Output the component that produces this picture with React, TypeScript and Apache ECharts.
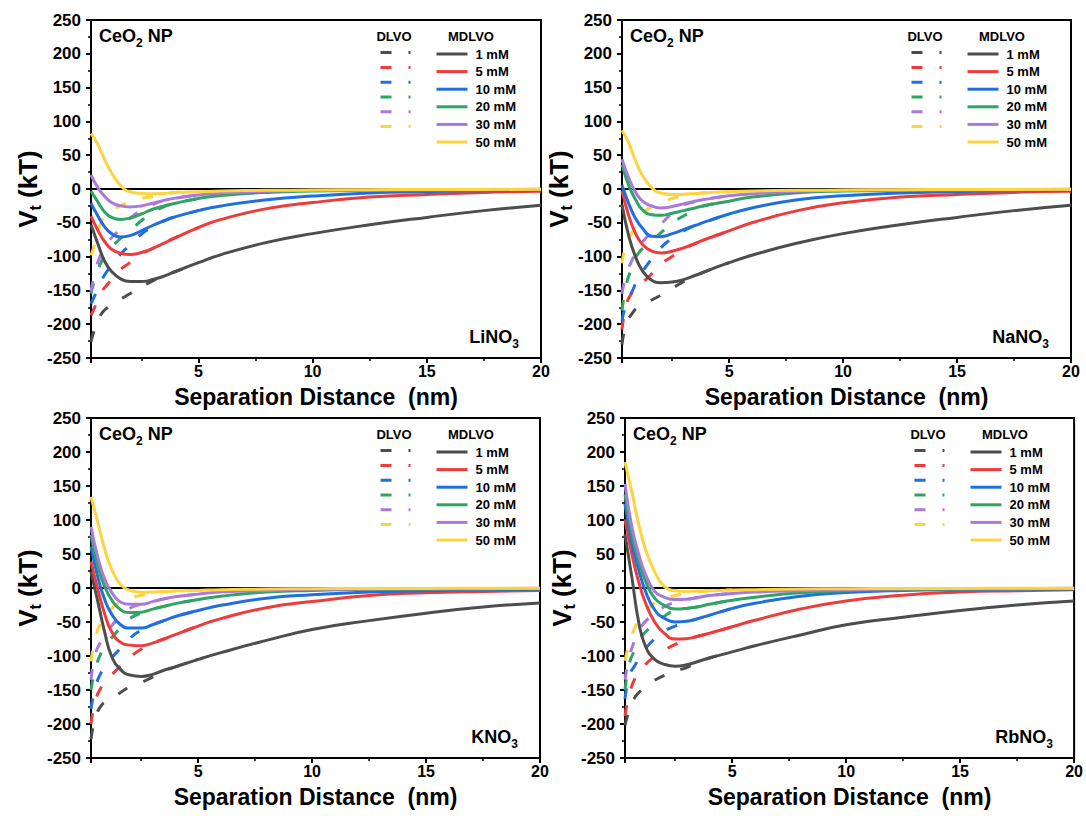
import React, { useEffect, useRef } from 'react';
import * as echarts from 'echarts';

// ---------- data ----------
const xMDLVO = [0.3, 0.6, 0.9, 1.2, 1.6, 2.0, 2.5, 3.0, 3.5, 4.0, 5, 6, 8, 10, 12.5, 15, 17.5, 20];
const xDLVO = [0.3, 0.5, 0.75, 1.0, 1.5, 2.0, 2.5, 3.0, 3.5, 4.0, 5.0];
const concentrations = ['1 mM', '5 mM', '10 mM', '20 mM', '30 mM', '50 mM'];
const xRange = [0.3, 20];
const yRange = [-250, 250];
const yStep = 50;
const zeroLine = [[0.3, 0], [20, 0]];

// LiNO3
const liMDLVO = [
  [-53, -81, -107, -122, -133, -137, -137, -134, -129, -122, -109, -97, -79, -66, -53, -42, -32, -24],
  [-40, -61, -78, -89, -95, -97, -94, -88, -80, -72, -57, -45, -29, -20, -12, -8, -5, -3.5],
  [-21, -40, -56, -66, -71, -69, -62, -54, -47, -41, -32, -25, -16, -10.5, -6, -4, -2.5, -2],
  [-3, -19, -34, -42, -45, -43, -37, -30, -25, -21, -14, -9.5, -5, -3, -2, -1.5, -1, -1],
  [21, 2, -11, -20, -25, -26.5, -25, -21, -16.8, -13.5, -9, -6, -3.2, -2, -1.5, -1, -1, -0.5],
  [82, 66, 43, 24, 5, -4, -6.5, -7.2, -6.5, -5, -4, -3, -2, -1.5, -1, -0.8, -0.6, -0.5],
];
const liDLVO = [
  [-226, -203, -185, -176, -165, -155, -145, -136, -128, -122, -109],
  [-187, -172, -153, -142, -122, -109, -96, -88, -80, -72, -57],
  [-170, -155, -136, -122, -100, -83, -67, -56, -47, -41, -32],
  [-155, -130, -108, -95, -76, -62, -47, -35, -26, -21, -14],
  [-152, -120, -95, -80, -62, -44, -31, -23, -17, -13.5, -9],
  [-98, -78, -48, -36, -26, -19, -14, -11, -8, -5, -4],
];
// NaNO3
const naMDLVO = [
  [-23, -70, -101, -121, -135, -138.5, -137.5, -134, -128, -121.5, -109, -98, -80, -66, -53, -42, -32, -24],
  [-3, -40, -66, -82, -92, -94.5, -92, -87, -80.5, -74, -62, -50, -32, -20.5, -12, -8, -5, -3.5],
  [6, -22, -44, -58, -70, -70.5, -66, -60, -54, -48, -37, -28, -16, -10, -6, -4, -2.5, -2],
  [36, 5, -16, -31, -38, -39, -36, -32, -28, -24, -18, -12, -5.5, -3, -2, -1.5, -1, -1],
  [44, 16, -5, -18, -25, -28, -26, -22, -18, -15, -10, -7, -3.5, -2, -1.5, -1, -1, -0.5],
  [87, 68, 41, 20, 2, -6, -8.3, -7.6, -6.5, -5.5, -4, -3, -2, -1.5, -1, -0.8, -0.6, -0.5],
];
const naDLVO = [
  [-230, -198, -184, -175, -166, -157, -147, -137, -129, -121.5, -109],
  [-208, -170, -153, -144, -129, -111, -100, -89, -81, -74, -62],
  [-195, -168, -151, -133, -108, -87, -73, -62, -54, -48, -37],
  [-180, -140, -115, -96, -80, -65, -50, -40, -30, -24, -18],
  [-155, -125, -105, -88, -67, -52, -36, -24, -19, -15, -10],
  [-110, -80, -64, -45, -28, -21, -14, -10, -7, -5.5, -4],
];
// KNO3
const kMDLVO = [
  [24, -20, -65, -100, -120, -128, -130, -127, -121, -116, -105, -95, -77, -61, -48, -37, -28, -22],
  [39, -2, -38, -64, -80, -84, -85, -81, -75, -68.5, -56, -45, -29, -20, -11, -7, -5, -3.5],
  [61, 16, -17, -38, -54, -59, -59, -54, -48, -42, -33, -25.5, -15, -10, -6, -4, -2.5, -2],
  [78, 32, 2, -17, -32, -36, -35.5, -31, -27, -23, -17, -12, -6, -3.5, -2, -1.5, -1, -1],
  [90, 45, 13, -6, -21, -24, -24, -20, -16, -13, -9, -6, -3.5, -2, -1.5, -1, -1, -0.5],
  [134, 96, 57, 28, 5, -3.5, -6.3, -6, -5, -4.5, -3.5, -2.5, -1.5, -1, -0.8, -0.6, -0.5, -0.5],
];
const kDLVO = [
  [-222, -190, -173, -166, -156, -145, -139, -131, -122, -116, -105],
  [-200, -165, -146, -135, -118, -102, -90, -81, -75, -68.5, -56],
  [-178, -145, -124, -111, -92, -74, -62, -54, -48, -42, -33],
  [-150, -118, -95, -82, -62, -45, -37, -31, -27, -23, -17],
  [-135, -96, -78, -64, -45, -30, -24, -20, -16, -13, -9],
  [-108, -72, -50, -38, -22, -15, -11, -8, -6, -4.5, -3.5],
];
// RbNO3
const rbMDLVO = [
  [79, 16, -50, -86, -105, -112, -115, -113, -108, -103, -94, -85, -69, -54, -43, -33, -25, -19],
  [101, 50, 9, -22, -50, -66, -75, -74.5, -71, -66.5, -57, -47.5, -31, -19, -10.5, -6, -4, -2.5],
  [124, 66, 27, -5, -32, -44, -50, -49, -45, -40, -30, -22.5, -12, -6.5, -3.5, -2.5, -2, -1.5],
  [138, 78, 40, 10, -15, -25, -31, -30, -27.5, -24, -18, -13.5, -7, -4, -2.5, -1.5, -1, -1],
  [153, 90, 50, 20, -5, -13, -17, -16.5, -14, -11, -8, -6, -4, -2.5, -1.5, -1, -1, -0.5],
  [185, 141, 94, 57, 24, 3, -4, -5, -4.5, -4, -3, -2.5, -1.5, -1, -0.8, -0.6, -0.5, -0.5],
];
const rbDLVO = [
  [-202, -178, -160, -151, -138, -129, -122, -117, -109, -103, -94],
  [-188, -155, -132, -120, -103, -92, -83, -76, -71, -66.5, -57],
  [-163, -128, -113, -98, -78, -64, -56, -50, -45, -40, -30],
  [-150, -110, -90, -73, -55, -42, -33, -30, -27.5, -24, -18],
  [-135, -100, -75, -57, -40, -28, -21, -17, -14, -11, -8],
  [-107, -80, -57, -42, -24, -16, -11, -8, -6, -4, -3],
];

// ---------- styling ----------
const colors = ['#4d4d4d', '#ee3b3b', '#1f6fe0', '#2fa463', '#a979e0', '#fdd43f'];
const FONT = 'Liberation Sans, Arial, Helvetica, sans-serif';

const panels = [
  { salt: 'LiNO', M: liMDLVO, D: liDLVO, left: 91, top: 20, width: 450, height: 338 },
  { salt: 'NaNO', M: naMDLVO, D: naDLVO, left: 622, top: 20, width: 449, height: 338 },
  { salt: 'KNO', M: kMDLVO, D: kDLVO, left: 91, top: 418, width: 449, height: 340 },
  { salt: 'RbNO', M: rbMDLVO, D: rbDLVO, left: 625, top: 418, width: 450, height: 340 },
];

function buildOption() {
  const grid: any[] = [];
  const xAxis: any[] = [];
  const yAxis: any[] = [];
  const series: any[] = [];
  const legend: any[] = [];
  const graphic: any[] = [];

  panels.forEach((p, i) => {
    grid.push({
      left: p.left, top: p.top, width: p.width, height: p.height,
      show: true, borderColor: '#000', borderWidth: 2, backgroundColor: 'transparent',
    });
    xAxis.push({
      gridIndex: i, type: 'value', min: xRange[0], max: xRange[1], splitNumber: 4,
      axisLine: { onZero: false, lineStyle: { color: '#000', width: 2 } },
      axisTick: { show: true, length: 5, lineStyle: { color: '#000', width: 2 } },
      minorTick: { show: true, splitNumber: 2, length: 3, lineStyle: { color: '#000', width: 1.5 } },
      splitLine: { show: false },
      axisLabel: { showMinLabel: false, fontSize: 16, fontWeight: 'bold', color: '#000', margin: 5, fontFamily: FONT },
      name: 'Separation Distance  (nm)', nameLocation: 'middle', nameGap: 27,
      nameTextStyle: { fontSize: 23, fontWeight: 'bold', color: '#000', fontFamily: FONT },
    });
    yAxis.push({
      gridIndex: i, type: 'value', min: yRange[0], max: yRange[1], interval: yStep,
      axisLine: { show: true, lineStyle: { color: '#000', width: 2 } },
      axisTick: { show: true, length: 5, lineStyle: { color: '#000', width: 2 } },
      minorTick: { show: true, splitNumber: 2, length: 3, lineStyle: { color: '#000', width: 1.5 } },
      splitLine: { show: false },
      axisLabel: { fontSize: 17, fontWeight: 'bold', color: '#000', margin: 10, fontFamily: FONT },
      name: '{v|V}{s|t}{v| (kT)}', nameLocation: 'middle', nameGap: 48, nameRotate: 90,
      nameTextStyle: {
        color: '#000', fontFamily: FONT,
        rich: {
          v: { fontSize: 26, fontWeight: 'bold', color: '#000', lineHeight: 30, verticalAlign: 'middle', fontFamily: FONT },
          s: { fontSize: 16, fontWeight: 'bold', color: '#000', lineHeight: 30, verticalAlign: 'bottom', fontFamily: FONT },
        },
      },
    });

    series.push({
      type: 'line', name: 'zero', xAxisIndex: i, yAxisIndex: i, data: zeroLine,
      symbol: 'none', silent: true, lineStyle: { color: '#000', width: 2 }, z: 1,
    });
    concentrations.forEach((c, k) => {
      series.push({
        type: 'line', name: 'DLVO ' + c, xAxisIndex: i, yAxisIndex: i,
        data: xDLVO.map((x, j) => [x, p.D[k][j]]),
        symbol: 'none', showSymbol: false, smooth: true, clip: true,
        itemStyle: { color: colors[k] },
        lineStyle: { color: colors[k], width: 3, type: [11, 17] }, z: 2,
      });
    });
    concentrations.forEach((c, k) => {
      series.push({
        type: 'line', name: c, xAxisIndex: i, yAxisIndex: i,
        data: xMDLVO.map((x, j) => [x, p.M[k][j]]),
        symbol: 'none', showSymbol: false, smooth: true, clip: true,
        itemStyle: { color: colors[k] },
        lineStyle: { color: colors[k], width: 3, type: 'solid' }, z: 3,
      });
    });

    const legendCommon = {
      orient: 'vertical', top: p.top + 27, itemHeight: 14, itemGap: 3.6, padding: 0,
      selectedMode: false, lineStyle: { width: 3 }, itemStyle: { opacity: 0 },
      textStyle: { fontSize: 13, fontWeight: 'bold', color: '#000', lineHeight: 14, fontFamily: FONT },
    };
    legend.push({
      ...legendCommon, left: p.left + 288, itemWidth: 30,
      data: concentrations.map((c) => 'DLVO ' + c), formatter: () => '',
    });
    legend.push({
      ...legendCommon, left: p.left + 344, itemWidth: 31,
      data: concentrations,
      textStyle: { ...legendCommon.textStyle, padding: [0, 0, 0, 3] },
    });

    graphic.push({
      type: 'text',
      style: {
        x: p.left + 303, y: p.top + 16, text: 'DLVO',
        align: 'center', verticalAlign: 'middle', textAlign: 'center', textVerticalAlign: 'middle',
        fontSize: 13, fontWeight: 'bold', fill: '#000', fontFamily: FONT,
      },
    });
    graphic.push({
      type: 'text',
      style: {
        x: p.left + 380, y: p.top + 16, text: 'MDLVO',
        align: 'center', verticalAlign: 'middle', textAlign: 'center', textVerticalAlign: 'middle',
        fontSize: 13, fontWeight: 'bold', fill: '#000', fontFamily: FONT,
      },
    });
    graphic.push({
      type: 'text',
      style: {
        x: p.left + 8, y: p.top + 16, text: '{a|CeO}{s|2}{a| NP}',
        align: 'left', verticalAlign: 'middle', textAlign: 'left', textVerticalAlign: 'middle',
        fill: '#000', fontFamily: FONT,
        rich: {
          a: { fontSize: 18, fontWeight: 'bold', fill: '#000', lineHeight: 26, verticalAlign: 'middle', fontFamily: FONT },
          s: { fontSize: 12, fontWeight: 'bold', fill: '#000', lineHeight: 26, verticalAlign: 'bottom', fontFamily: FONT },
        },
      },
    });
    graphic.push({
      type: 'text',
      style: {
        x: p.left + p.width - 22, y: p.top + p.height - 21, text: '{a|' + p.salt + '}{s|3}',
        align: 'right', verticalAlign: 'middle', textAlign: 'right', textVerticalAlign: 'middle',
        fill: '#000', fontFamily: FONT,
        rich: {
          a: { fontSize: 18, fontWeight: 'bold', fill: '#000', lineHeight: 26, verticalAlign: 'middle', fontFamily: FONT },
          s: { fontSize: 12, fontWeight: 'bold', fill: '#000', lineHeight: 26, verticalAlign: 'bottom', fontFamily: FONT },
        },
      },
    });
  });

  return {
    animation: false,
    backgroundColor: '#fff',
    textStyle: { fontFamily: FONT },
    grid, xAxis, yAxis, series, legend, graphic,
  };
}

export default function App() {
  const ref = useRef<HTMLDivElement>(null);
  useEffect(() => {
    document.body.style.margin = '0';
    if (!ref.current) return;
    const chart = echarts.init(ref.current, undefined, { renderer: 'svg' });
    chart.setOption(buildOption() as any);
    return () => chart.dispose();
  }, []);
  return <div ref={ref} style={{ width: 1086, height: 816 }} />;
}
